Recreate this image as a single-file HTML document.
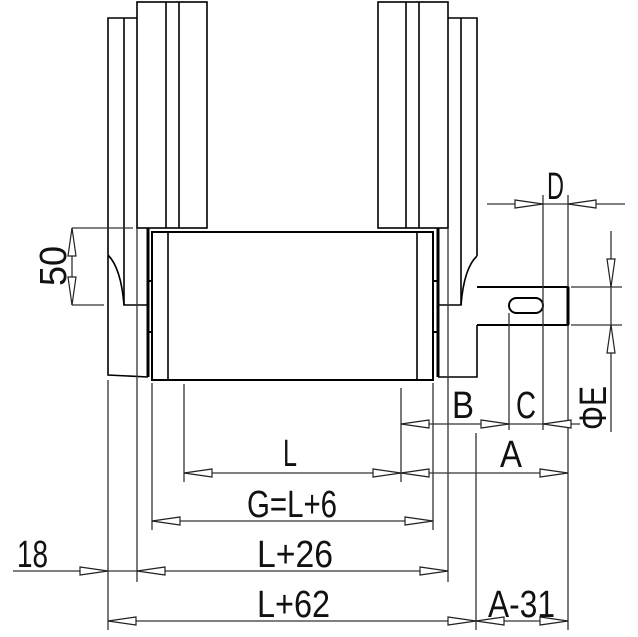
<!DOCTYPE html>
<html><head><meta charset="utf-8"><style>
html,body{margin:0;padding:0;background:#fff;}
svg{display:block;}
text{font-family:"Liberation Sans",sans-serif;font-size:38px;fill:#111;}
</style></head><body>
<svg width="638" height="637" viewBox="0 0 638 637" xmlns="http://www.w3.org/2000/svg">
<g fill="none" stroke="#000" stroke-width="1.6">
<!-- left assembly -->
<rect x="137" y="2" width="70" height="226"/>
<line x1="166" y1="2" x2="166" y2="228"/>
<line x1="179" y1="2" x2="179" y2="228"/>
<polyline points="137,18 108,18 108,375 148,377"/>
<line x1="124" y1="18" x2="124" y2="305"/>
<path d="M108,255 Q121,268 124,305 L148,305"/>
<line x1="148" y1="228" x2="148" y2="377" stroke-width="3"/>
<rect x="152" y="232" width="281" height="148" stroke-width="2"/>
<line x1="168" y1="232" x2="168" y2="380"/>
<line x1="417" y1="232" x2="417" y2="380"/>
<line x1="148" y1="281" x2="152" y2="281" stroke-width="2"/>
<line x1="148" y1="332" x2="152" y2="332" stroke-width="2"/>
<line x1="433" y1="281" x2="438" y2="281" stroke-width="2"/>
<line x1="433" y1="332" x2="438" y2="332" stroke-width="2"/>
<!-- right assembly -->
<rect x="378" y="2" width="70" height="226"/>
<line x1="406" y1="2" x2="406" y2="228"/>
<line x1="419" y1="2" x2="419" y2="228"/>
<polyline points="448,18 477,18 477,256"/>
<line x1="461" y1="18" x2="461" y2="305"/>
<path d="M477,256 Q464,268 461,305 L438,305"/>
<line x1="438" y1="228" x2="438" y2="377" stroke-width="3"/>
<polyline points="438,377 477,377 477,325"/>
<!-- shaft -->
<polyline points="477,287 568,287 568,325 477,325" stroke-width="2"/>
<line x1="568" y1="287" x2="568" y2="325" stroke-width="3"/>
<rect x="509" y="298" width="34" height="15" rx="7.5" stroke-width="2"/>
</g>
<g fill="none" stroke="#333" stroke-width="1.3">
<!-- extension lines -->
<line x1="72" y1="228" x2="133" y2="228"/>
<line x1="72" y1="305" x2="104" y2="305"/>
<line x1="72" y1="228" x2="72" y2="305"/>
<line x1="137" y1="228" x2="137" y2="582"/>
<line x1="448" y1="228" x2="448" y2="582"/>
<line x1="108" y1="380" x2="108" y2="630"/>
<line x1="152" y1="383" x2="152" y2="530"/>
<line x1="184" y1="384" x2="184" y2="482"/>
<line x1="401" y1="388" x2="401" y2="482"/>
<line x1="433" y1="383" x2="433" y2="530"/>
<line x1="476" y1="433" x2="476" y2="630"/>
<line x1="568" y1="195" x2="568" y2="287"/>
<line x1="568" y1="325" x2="568" y2="630"/>
<line x1="543" y1="195" x2="543" y2="430"/>
<line x1="509" y1="313" x2="509" y2="430"/>
<line x1="571" y1="287" x2="622" y2="287"/>
<line x1="571" y1="325" x2="622" y2="325"/>
<line x1="611" y1="231" x2="611" y2="432"/>
<!-- dim lines -->
<line x1="487" y1="204" x2="625" y2="204"/>
<line x1="401" y1="424" x2="580" y2="424"/>
<line x1="184" y1="473" x2="568" y2="473"/>
<line x1="152" y1="521" x2="433" y2="521"/>
<line x1="13" y1="571" x2="448" y2="571"/>
<line x1="108" y1="621" x2="568" y2="621"/>
</g>
<g fill="#fff" stroke="#222" stroke-width="1.2">
<!-- arrows: tip, base -->
<polygon points="72,228 68,256 76,256"/>
<polygon points="72,305 68,277 76,277"/>
<polygon points="543,204 515,200 515,208"/>
<polygon points="568,204 596,200 596,208"/>
<polygon points="611,287 607,259 615,259"/>
<polygon points="611,325 607,353 615,353"/>
<polygon points="401,424 429,420 429,428"/>
<polygon points="509,424 481,420 481,428"/>
<polygon points="543,424 571,420 571,428"/>
<polygon points="184,473 212,469 212,477"/>
<polygon points="401,473 373,469 373,477"/>
<polygon points="401,473 429,469 429,477"/>
<polygon points="568,473 540,469 540,477"/>
<polygon points="152,521 180,517 180,525"/>
<polygon points="433,521 405,517 405,525"/>
<polygon points="108,571 80,567 80,575"/>
<polygon points="137,571 165,567 165,575"/>
<polygon points="448,571 420,567 420,575"/>
<polygon points="108,621 136,617 136,625"/>
<polygon points="476,621 448,617 448,625"/>
<polygon points="476,621 504,617 504,625"/>
<polygon points="568,621 540,617 540,625"/>
</g>
<g>
<text x="283" y="466" textLength="14" lengthAdjust="spacingAndGlyphs">L</text>
<text x="247" y="517" textLength="90" lengthAdjust="spacingAndGlyphs">G=L+6</text>
<text x="257" y="567" textLength="76" lengthAdjust="spacingAndGlyphs">L+26</text>
<text x="257" y="617" textLength="73" lengthAdjust="spacingAndGlyphs">L+62</text>
<text x="17" y="567" textLength="31" lengthAdjust="spacingAndGlyphs">18</text>
<text x="488" y="617" textLength="67" lengthAdjust="spacingAndGlyphs">A-31</text>
<text x="500" y="467" textLength="22" lengthAdjust="spacingAndGlyphs">A</text>
<text x="452" y="418" textLength="22" lengthAdjust="spacingAndGlyphs">B</text>
<text x="516" y="418" textLength="20" lengthAdjust="spacingAndGlyphs">C</text>
<text x="547" y="199" textLength="17" lengthAdjust="spacingAndGlyphs">D</text>
<text transform="translate(66,286) rotate(-90)" x="0" y="0" textLength="40" lengthAdjust="spacingAndGlyphs">50</text>
<text transform="translate(606,430) rotate(-90)" x="0" y="0" textLength="44" lengthAdjust="spacingAndGlyphs">ΦE</text>
</g>
</svg>
</body></html>
